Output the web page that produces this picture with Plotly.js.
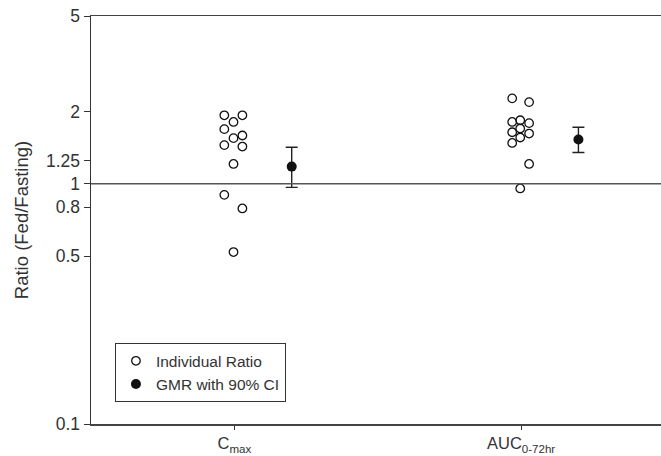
<!DOCTYPE html>
<html>
<head>
<meta charset="utf-8">
<script src="https://cdn.plot.ly/plotly-3.0.1.min.js"></script>
<style>html,body{margin:0;padding:0;background:#fff}#chart{width:661px;height:456px}</style>
</head>
<body>
<div id="chart"></div>
<script>
// Categories (x positions 1 and 2)
const categories = ["C<sub>max</sub>", "AUC<sub>0-72hr</sub>"];
const categoryPos = [1, 2];

// Individual ratios (Fed/Fasting) per category, with small horizontal jitter columns
const cmaxRatios = [1.93, 1.93, 1.81, 1.69, 1.59, 1.55, 1.45, 1.43, 1.21, 0.90, 0.79, 0.52];
const cmaxJitter = [-0.035, 0.028, -0.003, -0.035, 0.028, -0.003, -0.035, 0.028, -0.003, -0.035, 0.028, -0.003];
const aucRatios = [2.27, 2.19, 1.81, 1.84, 1.79, 1.70, 1.64, 1.62, 1.56, 1.48, 1.21, 0.957];
const aucJitter = [-0.031, 0.028, -0.031, -0.003, 0.028, -0.003, -0.031, 0.028, -0.003, -0.031, 0.028, -0.003];

// Geometric mean ratio with 90% CI
const gmr = [1.18, 1.53];
const ciLower = [0.967, 1.35];
const ciUpper = [1.42, 1.72];
const gmrOffset = 0.20;

// Y tick labels
const yTicks = [0.1, 0.5, 0.8, 1, 1.25, 2, 5];
const yTickText = ["0.1", "0.5", "0.8", "1", "1.25", "2", "5"];

const indX = [], indY = [];
cmaxRatios.forEach((v, i) => { indX.push(categoryPos[0] + cmaxJitter[i]); indY.push(v); });
aucRatios.forEach((v, i) => { indX.push(categoryPos[1] + aucJitter[i]); indY.push(v); });

const traces = [
  {
    type: "scatter", mode: "markers", name: "Individual Ratio",
    x: indX, y: indY,
    marker: { symbol: "circle-open", size: 8.5, color: "#111", line: { width: 1.3, color: "#111" } },
    hoverinfo: "y"
  },
  {
    type: "scatter", mode: "markers", name: "GMR with 90% CI",
    x: categoryPos.map(p => p + gmrOffset), y: gmr,
    marker: { symbol: "circle", size: 10, color: "#111" },
    error_y: {
      type: "data", symmetric: false,
      array: gmr.map((g, i) => ciUpper[i] - g),
      arrayminus: gmr.map((g, i) => g - ciLower[i]),
      color: "#222", thickness: 1.4, width: 6
    }
  }
];

const layout = {
  width: 661, height: 456,
  margin: { l: 91, r: 0, t: 16, b: 32 },
  paper_bgcolor: "#fff", plot_bgcolor: "#fff",
  font: { family: "Liberation Sans, Arial, sans-serif", size: 17, color: "#333" },
  showlegend: true,
  legend: {
    x: 0.042, y: 0.198, xanchor: "left", yanchor: "top",
    bordercolor: "#333", borderwidth: 1, bgcolor: "#fff",
    font: { size: 15.5, color: "#333" },
    itemsizing: "trace",
    tracegroupgap: 0
  },
  xaxis: {
    range: [0.5, 2.488],
    tickvals: categoryPos, ticktext: categories,
    ticks: "outside", ticklen: 4, tickcolor: "#333", tickwidth: 1,
    showline: true, linecolor: "#444", linewidth: 1.5, mirror: true,
    showgrid: false, zeroline: false,
    tickfont: { size: 16.5, color: "#333" }
  },
  yaxis: {
    type: "log", range: [Math.log10(0.1), Math.log10(5)],
    tickvals: yTicks, ticktext: yTickText,
    ticks: "outside", ticklen: 6, tickcolor: "#333", tickwidth: 1,
    showline: true, linecolor: "#333", linewidth: 1.5,
    showgrid: false, zeroline: false,
    tickfont: { size: 17.5, color: "#333" },
    title: { text: "Ratio (Fed/Fasting)", font: { size: 18.5, color: "#333" }, standoff: 12 }
  },
  shapes: [
    { type: "line", xref: "paper", x0: 0, x1: 1, yref: "y", y0: 1, y1: 1,
      line: { color: "#555", width: 1.5 } }
  ]
};

Plotly.newPlot("chart", traces, layout, { displayModeBar: false, staticPlot: true });
</script>
</body>
</html>
